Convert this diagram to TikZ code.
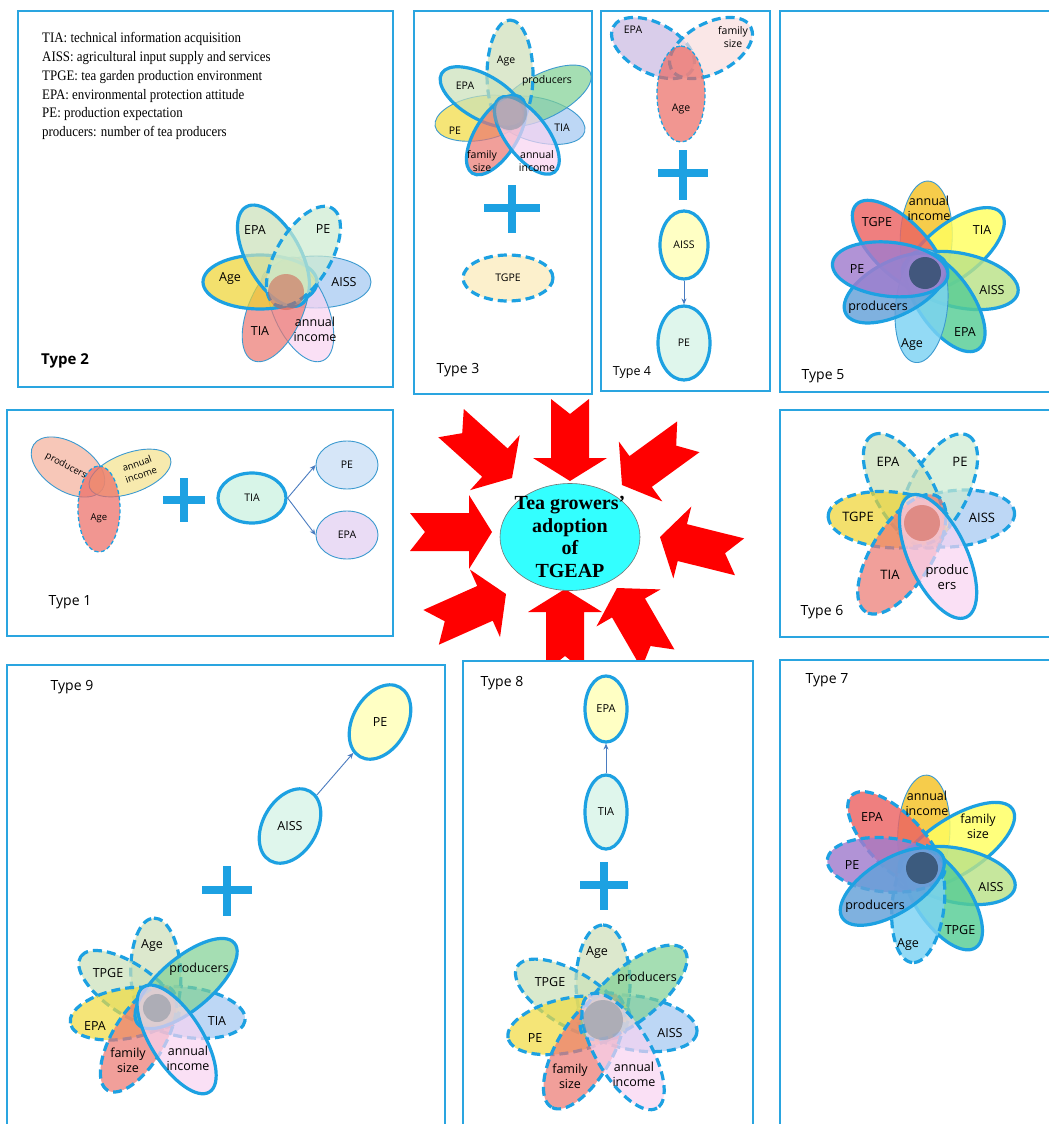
\documentclass[tikz,border=0pt]{standalone}
\usepackage{fontspec}
\setmainfont{Liberation Serif}
\newfontfamily\labf{Open Sans}
\newfontfamily\legf[FakeStretch=0.89]{Liberation Serif}
\usetikzlibrary{arrows.meta,shapes.geometric}
\definecolor{bl}{HTML}{1DA1E2}
\definecolor{panel}{HTML}{2AA5E0}
\definecolor{thinb}{HTML}{3C9AD0}
\definecolor{connc}{HTML}{4A7CC0}
\definecolor{cyanc}{HTML}{33FFFF}
\definecolor{arrred}{HTML}{FF0000}
% pastel petals
\definecolor{c2Y}{HTML}{EED330}
\definecolor{c2PG}{HTML}{CAE1B8}
\definecolor{c2Mint}{HTML}{CDECD0}
\definecolor{c2LB}{HTML}{A2C7F1}
\definecolor{c2Sal}{HTML}{EC7770}
\definecolor{c2Pk}{HTML}{F8D4F1}
\definecolor{c3Gr}{HTML}{7FD094}
\definecolor{c3PG}{HTML}{CEDFB8}
\definecolor{c3Y}{HTML}{F1DB3E}
% vivid petals
\definecolor{cGold}{HTML}{F5C124}
\definecolor{cYel}{HTML}{FFFF60}
\definecolor{cLG}{HTML}{BAE288}
\definecolor{cTeal}{HTML}{56CD95}
\definecolor{cSky}{HTML}{7CD3F3}
\definecolor{cBlu}{HTML}{63A1D9}
\definecolor{cPur}{HTML}{A17CCD}
\definecolor{cRed}{HTML}{EC6363}
\definecolor{cCore}{HTML}{34506F}
\definecolor{cGrey}{HTML}{8E98A4}
\definecolor{cCoreR}{HTML}{D0604F}
% single nodes
\definecolor{c1Peach}{HTML}{F5B09B}
\definecolor{c1PY}{HTML}{F5E28D}
\definecolor{c4Lav}{HTML}{CAB8E2}
\definecolor{c4Pk}{HTML}{F8DEDE}
\definecolor{cSalN}{HTML}{EC6A63}
\definecolor{cTIA1}{HTML}{D8F5E8}
\definecolor{cLB1}{HTML}{D6E6F8}
\definecolor{cLav1}{HTML}{EADCF5}
\definecolor{cCream}{HTML}{FCF0CC}
\definecolor{cPY}{HTML}{FFFFC4}
\definecolor{cPM}{HTML}{DFF6EC}
\newcommand\pet[8]{\path[pf,shift={(#1,#2)},rotate=#3,fill=#7,#8] (#4,0) ellipse [x radius=#5,y radius=#6];}
\newcommand\redarr[3]{\fill[arrred,shift={(#1,#2)},rotate=#3] (0,0) -- (-23,37) -- (-23,19) -- (-82,19) -- (-67,0) -- (-82,-19) -- (-23,-19) -- (-23,-37) -- cycle;}
\tikzset{
  pbox/.style={draw=panel,line width=2.6},
  pf/.style={fill opacity=0.7},
  vf/.style={fill opacity=0.82},
  pthick/.style={draw=bl,line width=3.2},
  pdash/.style={draw=bl,line width=3.2,dash pattern=on 9pt off 5pt},
  pthin/.style={draw=thinb,line width=0.9},
  pthindash/.style={draw=bl,line width=1.3,dash pattern=on 4pt off 2.5pt},
  plusst/.style={draw=bl,line width=8.5},
  conn/.style={draw=connc,line width=0.9,-{Stealth[length=6pt,width=5pt]}},
  l9/.style={font=\labf\fontsize{9.5}{12}\selectfont,align=center,inner sep=0},
  l10/.style={font=\labf\fontsize{10.5}{12.5}\selectfont,align=center,inner sep=0},
  l11/.style={font=\labf\fontsize{11}{13}\selectfont,align=center,inner sep=0},
  l12/.style={font=\labf\fontsize{12.5}{15}\selectfont,align=center,inner sep=0},
  l13/.style={font=\labf\fontsize{13}{15}\selectfont,align=center,inner sep=0},
  ltype/.style={font=\labf\fontsize{14}{16}\selectfont,inner sep=0},
  leg/.style={font=\legf\fontsize{14.5}{17}\selectfont,inner sep=0,anchor=base west},
  oval/.style={ellipse,inner sep=0},
}
\begin{document}
\begin{tikzpicture}[x=1pt,y=-1pt]
\useasboundingbox (0,0) rectangle (1049,1124);
\clip (0,0) rectangle (1049,1124);
\fill[white] (0,0) rectangle (1049,1124);

% ---------- red arrows ----------
\begin{scope}
\clip (0,398) rectangle (1049,659);
\redarr{570}{481}{-90}
\redarr{512}{478}{-42}
\redarr{622}{485}{-144}
\redarr{492}{532}{0}
\redarr{660}{537}{166}
\redarr{506}{594}{24}
\redarr{565}{589}{90}
\redarr{617}{588}{120}
\end{scope}
\node[ellipse,draw=black!55,line width=0.6,fill=cyanc,minimum width=140,minimum height=107,inner sep=0] (goal) at (570,537) {};
\node[align=center,inner sep=0,font=\bfseries\fontsize{20}{22.5}\selectfont] (goaltxt) at (goal.center) {Tea growers'\\adoption\\of\\TGEAP};

% ---------- panels ----------
\draw[pbox] (18,11) rectangle (393,387);
\draw[pbox] (414,11) rectangle (592,394);
\draw[pbox] (601,11) rectangle (770,391);
\draw[pbox] (780,11) rectangle (1060,392);
\draw[pbox] (7,410) rectangle (393,636);
\draw[pbox] (780,410) rectangle (1060,637);
\draw[pbox] (7,665) rectangle (445,1130);
\draw[pbox] (463,661) rectangle (753,1130);
\draw[pbox] (780,660) rectangle (1060,1130);

% ---------- Type 2 ----------
\node[leg] (lg1) at (42,43) {TIA: technical information acquisition};
\node[leg] (lg2) at (42,61.7) {AISS: agricultural input supply and services};
\node[leg] (lg3) at (42,80.4) {TPGE: tea garden production environment};
\node[leg] (lg4) at (42,99.1) {EPA: environmental protection attitude};
\node[leg] (lg5) at (42,117.8) {PE: production expectation};
\node[leg] (lg6) at (42,136.5) {producers: number of tea producers};
\pet{288}{282}{0}{28}{55}{26}{c2LB}{pthin}
\pet{288}{282}{-66}{30}{56}{27}{c2Pk}{pthin}
\pet{288}{282}{-114}{30}{56}{27}{c2Sal}{pthin}
\pet{288}{282}{180}{28}{57}{27}{c2Y}{pthick}
\pet{288}{282}{119}{30}{56}{27}{c2PG}{pthick}
\pet{288}{282}{59}{30}{56}{27}{c2Mint}{pdash}
\fill[cCoreR,fill opacity=0.55] (286,292) circle [radius=18];
\node[l12] (t2epa) at (255,230) {EPA};
\node[l12] (t2pe) at (323,229) {PE};
\node[l12] (t2age) at (230,279) {Age};
\node[l12] (t2aiss) at (344,282) {AISS};
\node[l12] (t2tia) at (260,331) {TIA};
\node[l12] (t2inc) at (315,329) {annual\\income};
\node[ltype,font=\labf\bfseries\fontsize{15}{17}\selectfont] (t2type) at (65,361) {Type 2};

% ---------- Type 3 ----------
\pet{510}{113}{-14}{30}{47}{22}{c2LB}{pthin}
\pet{510}{113}{190}{30}{46}{22}{c3Y}{pthin}
\pet{510}{113}{27}{38}{52}{22}{c3Gr}{pthin}
\pet{510}{113}{90}{38}{55}{23}{c3PG}{pdash}
\pet{510}{113}{150}{32}{47}{22}{c2PG}{pthick}
\pet{510}{113}{-122}{26}{45}{21}{c2Sal}{pthick}
\pet{510}{113}{-53}{28}{46}{21}{c2Pk}{pthick}
\fill[cGrey,fill opacity=0.6] (510,113) circle [radius=17];
\node[l10] (t3age) at (506,61) {Age};
\node[l10] (t3prod) at (547,81) {producers};
\node[l10] (t3epa) at (465,86) {EPA};
\node[l10] (t3pe) at (455,131) {PE};
\node[l10] (t3tia) at (562,128) {TIA};
\node[l10] (t3fam) at (482,161) {family\\size};
\node[l10] (t3inc) at (537,161) {annual\\income};
\draw[plusst] (484,208) -- (540,208) (512,185) -- (512,233);
\node[oval,pdash,fill=cCream,minimum width=90,minimum height=46,l10] (t3tgpe) at (508,278) {TGPE};
\node[ltype] (t3type) at (458,370) {Type 3};

% ---------- Type 4 ----------
\pet{653}{48}{-28}{0}{45}{25}{c4Lav}{pdash}
\pet{711}{48}{28}{0}{45}{25}{c4Pk}{pdash}
\pet{681}{94}{90}{0}{48}{24}{cSalN}{pthindash}
\node[l10] (t4epa) at (633,30) {EPA};
\node[l10] (t4fam) at (733,37) {family\\size};
\node[l10] (t4age) at (681,109) {Age};
\draw[plusst] (658,173) -- (708,173) (683,150) -- (683,200);
\node[oval,pthick,fill=cPY,minimum width=48,minimum height=68,l10] (t4aiss) at (684,245) {AISS};
\node[oval,pthick,fill=cPM,minimum width=52,minimum height=74,l10] (t4pe) at (684,343) {PE};
\draw[conn] (t4aiss) -- (t4pe);
\node[ltype,font=\labf\fontsize{12.5}{14}\selectfont] (t4type) at (632,373) {Type 4};

% ---------- Type 5 ----------
\pet{925}{273}{88}{35}{57}{26}{cGold}{pthin,vf}
\pet{925}{273}{38}{37}{60}{27}{cYel}{pthick,vf}
\pet{925}{273}{135}{37}{60}{27}{cRed}{pthick,vf}
\pet{925}{273}{-12}{36}{59}{27}{cLG}{pthick,vf}
\pet{925}{273}{-55}{35}{58}{27}{cTeal}{pthick,vf}
\pet{925}{273}{-96}{33}{57}{26}{cSky}{pthin,vf}
\pet{925}{273}{-153}{33}{56}{27}{cBlu}{pthick,vf}
\pet{925}{273}{174}{35}{58}{27}{cPur}{pthick,vf}
\fill[cCore,fill opacity=0.85] (925,273) circle [radius=16];
\node[l12] (t5inc) at (929,208) {annual\\income};
\node[l12] (t5tia) at (982,230) {TIA};
\node[l12] (t5aiss) at (992,290) {AISS};
\node[l12] (t5epa) at (965,332) {EPA};
\node[l12] (t5age) at (912,345) {Age};
\node[l12] (t5prod) at (878,307) {producers};
\node[l12] (t5pe) at (857,269) {PE};
\node[l12] (t5tgpe) at (877,222) {TGPE};
\node[ltype] (t5type) at (823,376) {Type 5};

% ---------- Type 1 ----------
\pet{68}{467}{-33}{0}{41}{24}{c1Peach}{pthin}
\pet{130}{473}{20}{0}{43}{20}{c1PY}{pthin}
\pet{99}{509}{90}{0}{43}{21}{cSalN}{pthindash}
\node[l9,rotate=-28] (t1prod) at (66,466) {producers};
\node[l9,rotate=20] (t1inc) at (139,469) {annual\\income};
\node[l9] (t1age) at (99,518) {Age};
\draw[plusst] (163,500) -- (205,500) (184,478) -- (184,522);
\node[oval,pthick,fill=cTIA1,minimum width=68,minimum height=50,l10] (t1tia) at (252,498) {TIA};
\node[oval,pthin,fill=cLB1,minimum width=62,minimum height=48,l10] (t1pe) at (347,465) {PE};
\node[oval,pthin,fill=cLav1,minimum width=62,minimum height=48,l10] (t1epa) at (347,535) {EPA};
\draw[conn] (t1tia.east) -- (t1pe.west);
\draw[conn] (t1tia.east) -- (t1epa.west);
\node[ltype] (t1type) at (70,602) {Type 1};

% ---------- Type 6 ----------
\pet{922}{522}{6}{33}{60}{28}{c2LB}{pdash}
\pet{922}{522}{62}{35}{63}{29}{c2Mint}{pdash}
\pet{922}{522}{120}{36}{64}{29}{c2PG}{pdash}
\pet{922}{522}{176}{33}{61}{28}{c2Y}{pdash}
\pet{922}{522}{-122}{38}{68}{30}{c2Sal}{pdash}
\pet{922}{522}{-65}{38}{67}{29}{c2Pk}{pthick}
\fill[cCoreR,fill opacity=0.55] (922,523) circle [radius=18];
\node[l13] (t6epa) at (888,462) {EPA};
\node[l13] (t6pe) at (960,462) {PE};
\node[l13] (t6tgpe) at (858,517) {TGPE};
\node[l13] (t6aiss) at (982,518) {AISS};
\node[l13] (t6tia) at (890,575) {TIA};
\node[l13] (t6prod) at (947,577) {produc\\ers};
\node[ltype] (t6type) at (822,612) {Type 6};

% ---------- Type 9 ----------
\node[oval,pthick,fill=cPY,minimum width=80,minimum height=54,rotate=60,l12] (t9pe) at (380,722) {\rotatebox{-60}{PE}};
\node[oval,pthick,fill=cPM,minimum width=80,minimum height=54,rotate=60,l12] (t9aiss) at (290,826) {\rotatebox{-60}{AISS}};
\draw[conn] (t9aiss) -- (t9pe);
\draw[plusst] (202,890) -- (252,890) (227,866) -- (227,916);
\pet{157}{1008}{-8}{32}{57}{25}{c2LB}{pdash}
\pet{157}{1008}{92}{34}{56}{25}{c3PG}{pdash}
\pet{157}{1008}{146}{34}{58}{25}{c2PG}{pdash}
\pet{157}{1008}{190}{32}{56}{25}{c3Y}{pdash}
\pet{157}{1008}{-121}{36}{60}{26}{c2Sal}{pdash}
\pet{157}{1008}{40}{38}{63}{26}{c3Gr}{pthick}
\pet{157}{1008}{-58}{37}{62}{26}{c2Pk}{pthick}
\fill[cGrey,fill opacity=0.6] (157,1008) circle [radius=14];
\node[l12] (t9age) at (152,946) {Age};
\node[l12] (t9prod) at (199,969) {producers};
\node[l12] (t9tpge) at (108,973) {TPGE};
\node[l12] (t9tia) at (217,1021) {TIA};
\node[l12] (t9epa) at (95,1026) {EPA};
\node[l12] (t9fam) at (128,1060) {family\\size};
\node[l12] (t9inc) at (188,1058) {annual\\income};
\node[ltype] (t9type) at (72,687) {Type 9};

% ---------- Type 8 ----------
\node[oval,pthick,fill=cPY,minimum width=42,minimum height=66,l11] (t8epa) at (606,709) {EPA};
\node[oval,pthick,fill=cPM,minimum width=42,minimum height=74,l11] (t8tia) at (606,812) {TIA};
\draw[conn] (t8tia) -- (t8epa);
\draw[plusst] (580,885) -- (628,885) (604,862) -- (604,910);
\pet{603}{1018}{-9}{34}{61}{27}{c2LB}{pdash}
\pet{603}{1018}{90}{35}{58}{27}{c3PG}{pdash}
\pet{603}{1018}{149}{37}{63}{27}{c2PG}{pdash}
\pet{603}{1018}{192}{35}{62}{27}{c3Y}{pdash}
\pet{603}{1018}{-120}{38}{65}{28}{c2Sal}{pdash}
\pet{603}{1018}{40}{40}{66}{27}{c3Gr}{pdash}
\pet{603}{1018}{-59}{39}{66}{27}{c2Pk}{pdash}
\fill[cGrey,fill opacity=0.6] (603,1020) circle [radius=20];
\node[l12] (t8age) at (597,953) {Age};
\node[l12] (t8prod) at (647,978) {producers};
\node[l12] (t8tpge) at (550,982) {TPGE};
\node[l12] (t8aiss) at (670,1033) {AISS};
\node[l12] (t8pe) at (535,1038) {PE};
\node[l12] (t8fam) at (570,1076) {family\\size};
\node[l12] (t8inc) at (634,1074) {annual\\income};
\node[ltype] (t8type) at (502,683) {Type 8};

% ---------- Type 7 ----------
\pet{922}{868}{87}{35}{58}{26}{cGold}{pthin,vf}
\pet{922}{868}{33}{40}{68}{28}{cYel}{pthick,vf}
\pet{922}{868}{134}{38}{63}{27}{cRed}{pdash,vf}
\pet{922}{868}{-12}{36}{59}{27}{cLG}{pthick,vf}
\pet{922}{868}{-56}{36}{60}{27}{cTeal}{pthick,vf}
\pet{922}{868}{-96}{36}{59}{26}{cSky}{pdash,vf}
\pet{922}{868}{175}{36}{59}{27}{cPur}{pdash,vf}
\pet{922}{868}{-148}{35}{59}{27}{cBlu}{pthick,vf}
\fill[cCore,fill opacity=0.85] (922,868) circle [radius=16];
\node[l12] (t7inc) at (927,803) {annual\\income};
\node[l12] (t7fam) at (978,826) {family\\size};
\node[l12] (t7aiss) at (991,887) {AISS};
\node[l12] (t7tpge) at (960,930) {TPGE};
\node[l12] (t7age) at (908,945) {Age};
\node[l12] (t7prod) at (875,906) {producers};
\node[l12] (t7pe) at (852,865) {PE};
\node[l12] (t7epa) at (872,817) {EPA};
\node[ltype] (t7type) at (827,680) {Type 7};
\end{tikzpicture}
\end{document}
